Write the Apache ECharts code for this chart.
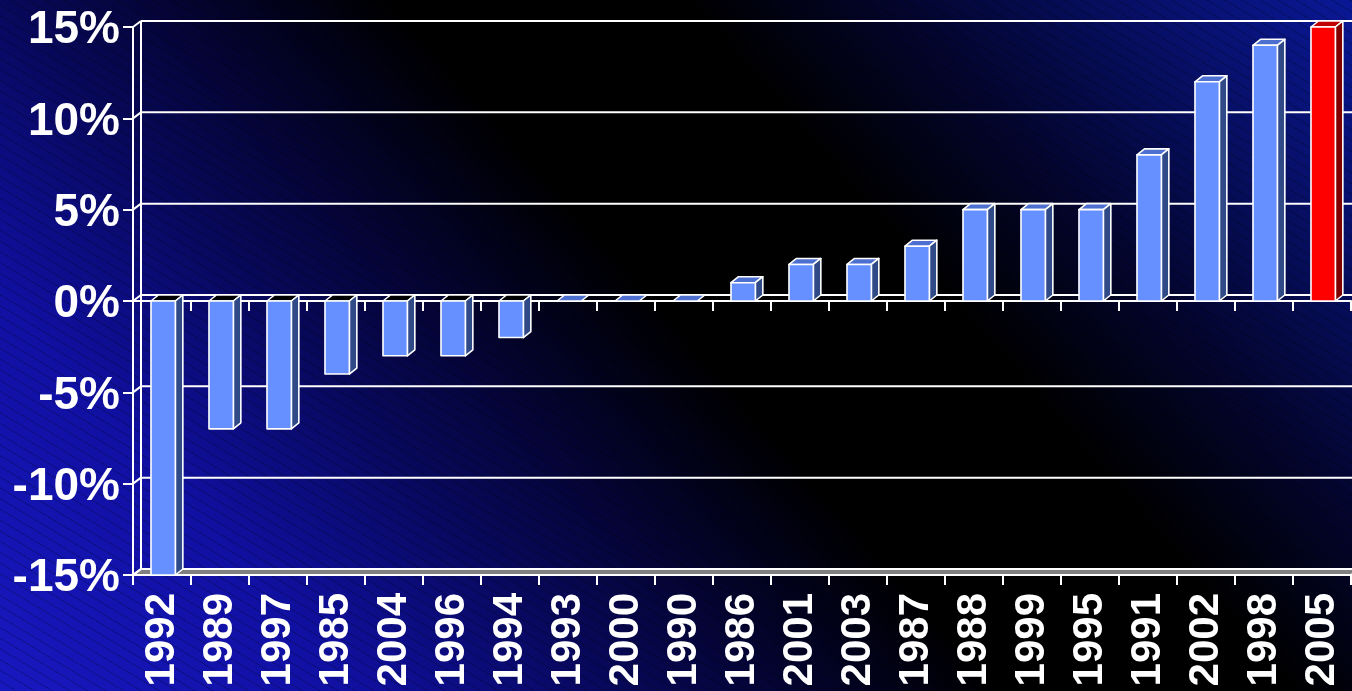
<!DOCTYPE html>
<html>
<head>
<meta charset="utf-8">
<title>Yearly change</title>
<script src="https://cdn.jsdelivr.net/npm/echarts@6/dist/echarts.min.js"></script>
<style>
  html, body { margin: 0; padding: 0; width: 1352px; height: 691px; overflow: hidden; }
  #bg {
    position: absolute; left: 0; top: 0; width: 1352px; height: 691px;
    background:
      repeating-linear-gradient(31deg, rgba(0,0,0,0) 0px, rgba(0,0,0,0) 8px, rgba(0,0,0,0.2) 8px, rgba(0,0,0,0.2) 9.2px),
      linear-gradient(48.6deg, #1818c0 0%, #1010a2 18%, #08085c 31%, #020220 44%, #000000 51%, #000000 66%, #03052e 77%, #071068 89%, #0a1896 100%);
  }
  #chart { position: absolute; left: 0; top: 0; width: 1352px; height: 691px; }
</style>
</head>
<body>
<div id="bg"></div>
<div id="chart"></div>
<script>
// Years, sorted by their change
const years = ['1992', '1989', '1997', '1985', '2004', '1996', '1994', '1993', '2000', '1990', '1986',
               '2001', '2003', '1987', '1988', '1999', '1995', '1991', '2002', '1998', '2005'];
// Change per year, in percent
const changes = [-15, -7, -7, -4, -3, -3, -2, 0, 0, 0, 1, 2, 2, 3, 5, 5, 5, 8, 12, 14, 15];
// Year drawn in red
const highlightYear = '2005';
// Value axis
const yMin = -15, yMax = 15, yStep = 5;
const yTicks = [-15, -10, -5, 0, 5, 10, 15];

// Oblique depth of the chart box and of the columns
const WALL_DX = 8, WALL_DY = 6;
const BAR_DX = 7.5, BAR_DY = 6;
const LINE = '#ffffff';

const chart = echarts.init(document.getElementById('chart'), null, { renderer: 'canvas' });

// Back wall gridlines, left wall and its connectors
function renderWall(params, api) {
  const cs = params.coordSys;
  const v = api.value(0);
  const y = api.coord([0, v])[1];
  const children = [
    { type: 'line', shape: { x1: cs.x, y1: y, x2: cs.x + WALL_DX, y2: y - WALL_DY },
      style: { stroke: LINE, lineWidth: 2 } },
    { type: 'line', shape: { x1: cs.x + WALL_DX, y1: y - WALL_DY, x2: cs.x + cs.width + WALL_DX, y2: y - WALL_DY },
      style: { stroke: LINE, lineWidth: 2 } }
  ];
  if (v === yMax) {
    children.push({ type: 'line',
      shape: { x1: cs.x + WALL_DX, y1: cs.y - WALL_DY, x2: cs.x + WALL_DX, y2: cs.y + cs.height - WALL_DY },
      style: { stroke: LINE, lineWidth: 2 } });
  }
  if (v === yMin) {
    children.unshift({ type: 'polygon',
      shape: { points: [[cs.x, y], [cs.x + cs.width, y], [cs.x + cs.width + WALL_DX, y - WALL_DY], [cs.x + WALL_DX, y - WALL_DY]] },
      style: { fill: '#808080', stroke: LINE, lineWidth: 2 } });
  }
  return { type: 'group', children: children };
}

// Oblique 3D column: top, side and front faces
function renderBar(params, api) {
  const i = api.value(0);
  const v = api.value(1);
  const base = api.coord([i, 0]);
  const tip = api.coord([i, v]);
  const band = api.size([1, 0])[0];
  const x0 = base[0] - band * 0.19;
  const x1 = x0 + band * 0.42;
  const yTop = Math.min(base[1], tip[1]);
  const yBot = Math.max(base[1], tip[1]);
  const hl = years[i] === highlightYear;
  const frontFill = hl ? '#ff0000' : '#6690ff';
  const sideFill = hl ? '#800000' : '#2f4a86';
  const topFill = v < 0 ? '#000000' : (hl ? '#c00000' : '#4d6fd0');
  const edge = { stroke: LINE, lineWidth: 1.6, lineJoin: 'round' };
  const children = [
    { type: 'polygon',
      shape: { points: [[x0, yTop], [x1, yTop], [x1 + BAR_DX, yTop - BAR_DY], [x0 + BAR_DX, yTop - BAR_DY]] },
      style: Object.assign({ fill: topFill }, edge) }
  ];
  if (v !== 0) {
    children.push({ type: 'polygon',
      shape: { points: [[x1, yTop], [x1 + BAR_DX, yTop - BAR_DY], [x1 + BAR_DX, yBot - BAR_DY], [x1, yBot]] },
      style: Object.assign({ fill: sideFill }, edge) });
    children.push({ type: 'rect',
      shape: { x: x0, y: yTop, width: x1 - x0, height: yBot - yTop },
      style: Object.assign({ fill: frontFill }, edge) });
  }
  return { type: 'group', children: children };
}

const option = {
  backgroundColor: 'transparent',
  animation: false,
  grid: { left: 133, top: 27, width: 1218, height: 548, containLabel: false },
  xAxis: [
    {
      type: 'category', data: years, position: 'bottom',
      axisLine: { onZero: false, lineStyle: { color: LINE, width: 2 } },
      axisTick: { show: true, length: 10, lineStyle: { color: LINE, width: 2 } },
      axisLabel: { rotate: 90, margin: 18, color: '#ffffff', fontSize: 42, fontWeight: 'bold',
                   fontFamily: 'Liberation Sans, Arial, sans-serif', interval: 0 },
      splitLine: { show: false }
    },
    {
      type: 'category', data: years, position: 'bottom',
      axisLine: { onZero: true, lineStyle: { color: LINE, width: 2 } },
      axisTick: { show: true, length: 10, lineStyle: { color: LINE, width: 2 } },
      axisLabel: { show: false },
      splitLine: { show: false }
    }
  ],
  yAxis: {
    type: 'value', min: yMin, max: yMax, interval: yStep,
    axisLine: { show: true, lineStyle: { color: LINE, width: 2 } },
    axisTick: { show: true, length: 10, lineStyle: { color: LINE, width: 2 } },
    axisLabel: { margin: 13, color: '#ffffff', fontSize: 46, fontWeight: 'bold',
                 verticalAlign: 'top', lineHeight: 7,
                 fontFamily: 'Liberation Sans, Arial, sans-serif', formatter: '{value}%' },
    splitLine: { show: false }
  },
  series: [
    {
      type: 'custom', name: 'walls', xAxisIndex: 0, z: 1, silent: true,
      renderItem: renderWall,
      data: yTicks.map(function (t) { return [t]; }),
      encode: { y: 0 }
    },
    {
      type: 'custom', name: 'change', xAxisIndex: 0, z: 3,
      renderItem: renderBar,
      data: changes.map(function (c, i) { return [i, c]; }),
      encode: { x: 0, y: 1 }
    }
  ]
};

chart.setOption(option);
</script>
</body>
</html>
